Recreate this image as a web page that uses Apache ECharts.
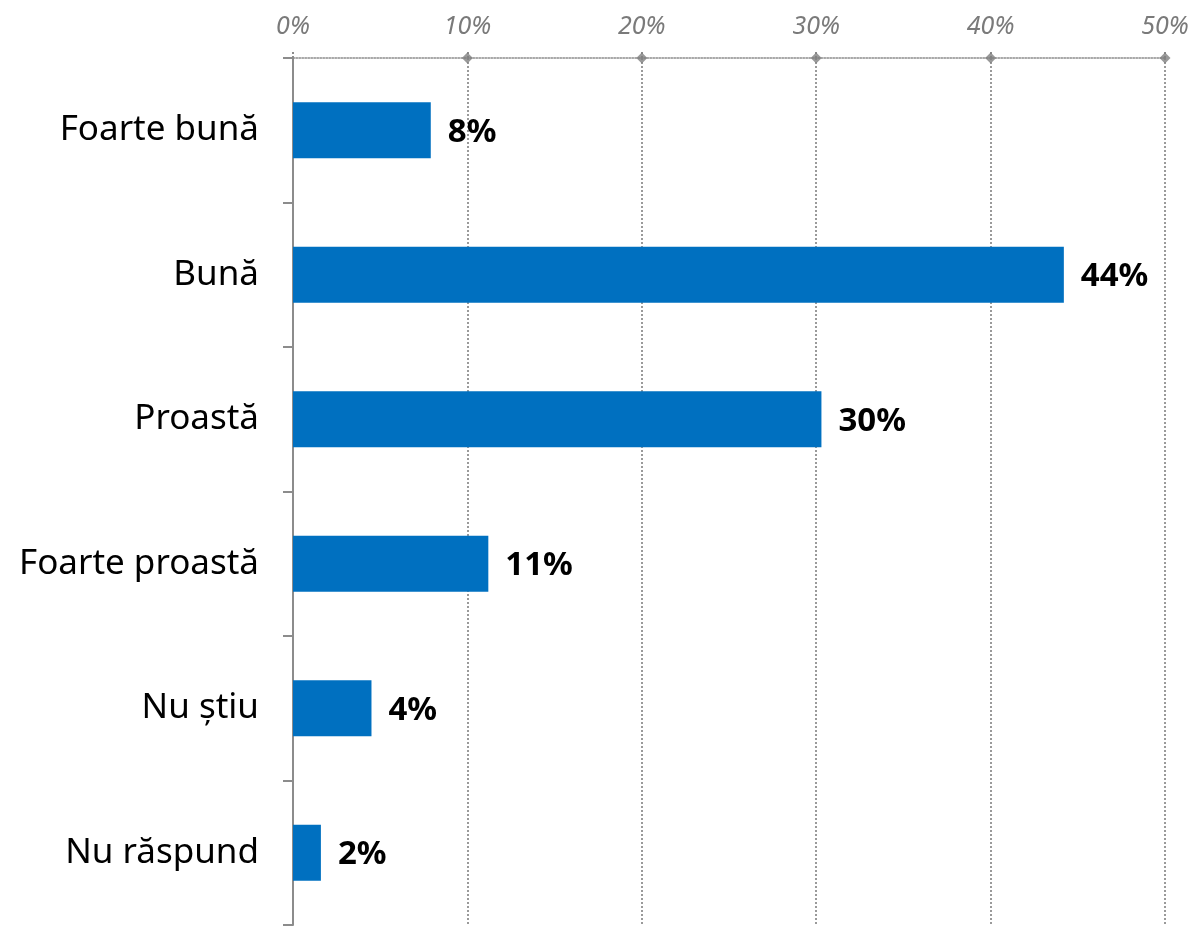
<!DOCTYPE html>
<html>
<head>
<meta charset="utf-8">
<script src="https://cdn.jsdelivr.net/npm/echarts@6/dist/echarts.min.js"></script>
<style>
html,body{margin:0;padding:0;background:#fff;}
#chart{width:1192px;height:926px;}
</style>
</head>
<body>
<div id="chart"></div>
<script>
const categories = ['Foarte bună', 'Bună', 'Proastă', 'Foarte proastă', 'Nu știu', 'Nu răspund'];
const values = [7.9, 44.2, 30.3, 11.2, 4.5, 1.6];
const valueLabels = ['8%', '44%', '30%', '11%', '4%', '2%'];
const tickValues = [10, 20, 30, 40, 50];

const chart = echarts.init(document.getElementById('chart'));
const option = {
  animation: false,
  grid: { left: 293, right: 27, top: 58, bottom: 1, containLabel: false },
  xAxis: {
    type: 'value', position: 'top', min: 0, max: 50, interval: 10,
    axisLine: { show: true, onZero: false, lineStyle: { color: '#8c8c8c', type: 'dotted', width: 1.5 } },
    axisTick: { show: true, length: 7, inside: false, lineStyle: { color: '#8c8c8c', type: 'dotted', width: 2 } },
    splitLine: { show: true, lineStyle: { color: '#9a9a9a', type: 'dotted', width: 2 } },
    axisLabel: { formatter: '{value}%', color: '#7a7a7a', fontStyle: 'italic', fontFamily: 'Noto Sans', fontSize: 25, margin: 19 }
  },
  yAxis: [{
    type: 'category', data: categories, inverse: true,
    axisLine: { show: true, lineStyle: { color: '#8c8c8c', width: 2 } },
    axisTick: { show: true, length: 10, lineStyle: { color: '#8c8c8c', width: 2 } },
    axisLabel: { color: '#000', fontFamily: 'Noto Sans', fontSize: 35, margin: 34 },
    splitLine: { show: false }
  }, {
    type: 'value', min: 0, max: 1, show: false
  }],
  series: [{
    type: 'bar', data: values, barWidth: 56, yAxisIndex: 0,
    itemStyle: { color: '#0070C0' },
    label: {
      show: true, position: 'right', distance: 17, offset: [0, 2],
      formatter: p => valueLabels[p.dataIndex],
      color: '#000', fontWeight: 'bold', fontFamily: 'Noto Sans', fontSize: 33
    }
  }, {
    type: 'scatter', yAxisIndex: 1, symbol: 'diamond', symbolSize: 11, clip: false,
    itemStyle: { color: '#808080' },
    data: tickValues.map(v => [v, 1]), silent: true
  }]
};
chart.setOption(option);
</script>
</body>
</html>
